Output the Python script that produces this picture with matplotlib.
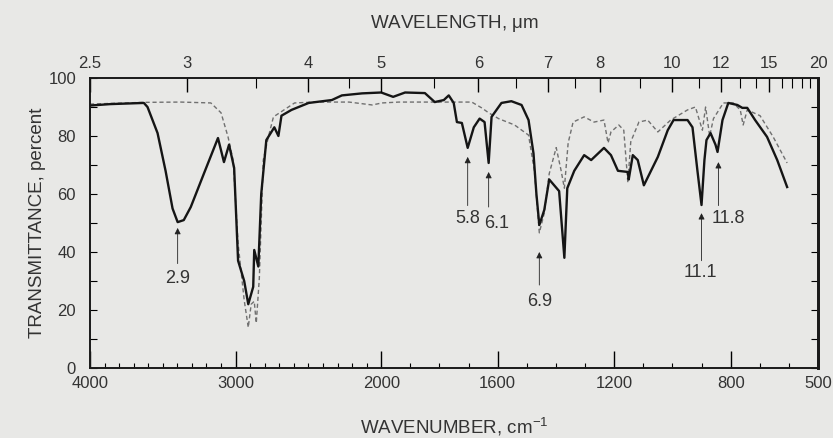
import numpy as np
import matplotlib
matplotlib.use("Agg")
import matplotlib.pyplot as plt
from matplotlib import font_manager

# ---------------- data ----------------
solid_wn = [4000, 3860, 3630, 3605, 3536, 3481, 3433, 3398, 3356, 3308, 3218, 3121, 3080,
            3045, 3010, 2983, 2941, 2913, 2879, 2872, 2844, 2824, 2789, 2734, 2706, 2685,
            2616, 2498, 2339, 2270, 2131, 2000, 1959, 1918, 1850, 1816, 1785, 1768, 1751,
            1740, 1723, 1703, 1682, 1662, 1645, 1631, 1621, 1587, 1553, 1518, 1494, 1477,
            1467, 1457, 1440, 1423, 1406, 1389, 1371, 1361, 1337, 1303, 1279, 1235, 1211,
            1187, 1153, 1150, 1136, 1119, 1098, 1050, 1016, 996, 948, 931, 914, 900, 890,
            883, 869, 852, 845, 828, 808, 777, 760, 743, 716, 675, 640, 606]
solid_t = [90.5, 91.0, 91.4, 90.0, 81.0, 68.0, 55.0, 50.3, 51.0, 55.5, 67.0, 79.3, 71.0,
           77.0, 69.0, 37.0, 30.0, 22.0, 28.0, 40.7, 35.0, 60.0, 78.6, 83.0, 80.0, 87.0,
           89.0, 91.4, 92.4, 94.0, 94.7, 95.0, 93.5, 95.0, 94.8, 91.7, 92.4, 94.0, 91.4,
           84.8, 84.5, 75.9, 83.0, 86.0, 84.8, 70.7, 86.6, 91.4, 92.0, 90.7, 85.5, 74.0,
           60.0, 49.3, 54.5, 65.0, 63.0, 61.0, 38.0, 62.0, 68.0, 73.4, 71.7, 75.9, 73.4,
           68.0, 67.6, 65.0, 73.4, 71.7, 63.0, 72.8, 82.0, 85.5, 85.5, 83.0, 68.0, 56.2, 71.7,
           78.6, 81.0, 77.0, 74.5, 85.5, 91.4, 90.7, 89.7, 89.7, 85.5, 79.7, 71.7, 62.4]

dashed_wn = [4000, 3633, 3377, 3170, 3100, 3052, 3017, 2983, 2941, 2913, 2893, 2872, 2858,
             2837, 2810, 2775, 2740, 2595, 2457, 2221, 2062, 1997, 1939, 1826, 1689, 1655,
             1631, 1597, 1542, 1494, 1474, 1457, 1440, 1423, 1399, 1382, 1371, 1358, 1341,
             1303, 1269, 1235, 1221, 1211, 1184, 1167, 1153, 1143, 1115, 1085, 1050, 1006,
             948, 921, 897, 886, 872, 859, 825, 791, 767, 757, 743, 699, 654, 606]
dashed_t = [91.0, 91.6, 91.7, 91.4, 88.0, 79.7, 71.7, 43.0, 23.4, 14.0, 22.0, 23.0, 15.5,
            31.0, 71.7, 79.7, 86.6, 91.4, 91.7, 91.7, 90.7, 91.4, 91.7, 91.7, 91.7, 89.7,
            88.0, 86.0, 83.8, 80.3, 68.0, 46.6, 53.4, 67.0, 76.0, 68.0, 62.0, 77.6, 84.8,
            86.6, 84.8, 85.5, 77.6, 81.4, 83.8, 82.0, 64.0, 78.0, 84.8, 85.5, 81.4, 85.5,
            89.0, 90.0, 82.0, 90.0, 80.0, 86.0, 91.4, 91.4, 89.0, 83.8, 89.0, 87.0, 79.7, 70.7]

peak_labels = ["2.9", "5.8", "6.1", "6.9", "11.1", "11.8"]
peak_wn = [3398, 1703, 1631, 1457, 900, 842]
arrow_tip_t = [48.3, 72.8, 67.6, 40.0, 53.4, 71.0]
arrow_tail_t = [36.0, 56.0, 55.5, 28.6, 37.0, 56.0]
label_wn = [3398, 1703, 1604, 1457, 905, 808]
label_t = [31.0, 51.7, 50.0, 22.8, 32.8, 51.7]

wn_major = [4000, 3000, 2000, 1600, 1200, 800, 500]
wn_minor = [w for w in list(range(3900, 2000, -100)) + list(range(1900, 500, -100))
            if w not in (3000, 1600, 1200, 800)]
um_major = [2.5, 3, 4, 5, 6, 7, 8, 10, 12, 15, 20]
um_major_labels = ["2.5", "3", "4", "5", "6", "7", "8", "10", "12", "15", "20"]
um_minor = [3.5, 4.5, 5.5, 6.5, 7.5, 9, 11, 13, 14, 16, 17, 18, 19]
t_major = [0, 20, 40, 60, 80, 100]
t_minor = [10, 30, 50, 70, 90]

# ---------------- fonts ----------------
def have(name):
    try:
        font_manager.findfont(name, fallback_to_default=False)
        return True
    except Exception:
        return False

narrow = have("Liberation Sans Narrow")
tick_fam = ["Liberation Sans Narrow", "DejaVu Sans"] if narrow else ["Liberation Sans", "DejaVu Sans"]
lab_fam = ["Liberation Sans", "DejaVu Sans"]
plt.rcParams["font.family"] = tick_fam
plt.rcParams["mathtext.fontset"] = "custom"
plt.rcParams["mathtext.rm"] = "Liberation Sans"
plt.rcParams["mathtext.it"] = "Liberation Sans"
fs = 14 if narrow else 12
pfs = fs + 1
lfs = 13.5

# ---------------- piecewise wavenumber scale (2x expansion below 2000) ----------------
def fwd(w):
    w = np.asarray(w, dtype=float)
    return np.where(w >= 2000, (w - 2000) / 2000.0, (w - 2000) / 1000.0)

def inv(t):
    t = np.asarray(t, dtype=float)
    return np.where(t >= 0, 2000 + 2000.0 * t, 2000 + 1000.0 * t)

bg = "#e8e8e6"
tc = "#333333"
fig = plt.figure(figsize=(8.33, 4.38), dpi=100, facecolor=bg)
ax = fig.add_axes([90 / 833, 70 / 438, 728 / 833, 290 / 438], facecolor=bg)
ax.set_xscale("function", functions=(fwd, inv))
ax.set_xlim(4000, 500)
ax.set_ylim(0, 100)

ax.plot(dashed_wn, dashed_t, color="#707070", lw=1.0, ls=(0, (3, 2)), zorder=2)
ax.plot(solid_wn, solid_t, color="#151515", lw=1.7, zorder=3)

for lab, w, tip, tail, lw_, lt in zip(peak_labels, peak_wn, arrow_tip_t, arrow_tail_t, label_wn, label_t):
    ax.annotate("", xy=(w, tip), xytext=(w, tail),
                arrowprops=dict(arrowstyle="-|>", lw=0.6, color="#222222",
                                mutation_scale=9, shrinkA=0, shrinkB=0))
    ax.text(lw_, lt, lab, ha="center", va="center", fontsize=pfs, color=tc)

# bottom axis
ax.set_xticks(wn_major)
ax.set_xticklabels([str(w) for w in wn_major], fontsize=fs, color=tc)
ax.set_xticks(wn_minor, minor=True)
ax.tick_params(axis="x", which="major", direction="in", length=12, width=1.0, pad=6, top=False)
ax.tick_params(axis="x", which="minor", direction="in", length=3.5, width=0.8, top=False)

# y axis
ax.set_yticks(t_major)
ax.set_yticklabels([str(t) for t in t_major], fontsize=fs, color=tc)
ax.set_yticks(t_minor, minor=True)
ax.tick_params(axis="y", which="both", direction="in", length=5, width=0.8, right=True, pad=10)
ax.set_ylabel("TRANSMITTANCE, percent", fontsize=lfs, color=tc, labelpad=2, family=lab_fam)
ax.set_xlabel("WAVENUMBER, cm$^{-1}$", fontsize=lfs, color=tc, labelpad=18, family=lab_fam)

# top axis (wavelength)
ax2 = ax.twiny()
ax2.set_xscale("function", functions=(fwd, inv))
ax2.set_xlim(4000, 500)
ax2.set_xticks([1e4 / u for u in um_major])
ax2.set_xticklabels(um_major_labels, fontsize=fs, color=tc)
ax2.set_xticks([1e4 / u for u in um_minor], minor=True)
ax2.tick_params(axis="x", which="major", direction="in", length=10, width=1.0, pad=5)
ax2.tick_params(axis="x", which="minor", direction="in", length=7, width=0.8)
ax2.set_xlabel("WAVELENGTH, $\\mu$m", fontsize=lfs, color=tc, labelpad=20, family=lab_fam)

for a in (ax, ax2):
    for s in a.spines.values():
        s.set_color("#1a1a1a")
        s.set_linewidth(1.2)
    a.spines["right"].set_linewidth(2.0)

fig.savefig("out.png", dpi=100, facecolor=bg)
